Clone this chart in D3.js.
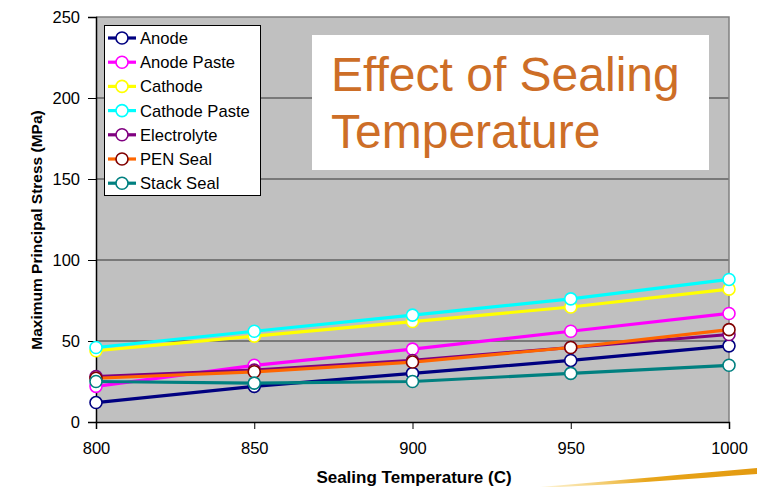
<!DOCTYPE html>
<html>
<head>
<meta charset="utf-8">
<script src="https://cdn.jsdelivr.net/npm/d3@7"></script>
<style>
  html, body { margin: 0; padding: 0; background: #fff; }
  svg { display: block; font-family: "Liberation Sans", Arial, sans-serif; }
</style>
</head>
<body>
<svg id="chart" width="757" height="487"></svg>
<script>
// Sealing temperatures (C)
const temperatures = [800, 850, 900, 950, 1000];

// Maximum principal stress (MPa) per component
const anode        = [12, 22, 30, 38, 47];
const anodePaste   = [22, 35, 45, 56, 67];
const cathode      = [44, 53, 62, 71, 82];
const cathodePaste = [46, 56, 66, 76, 88];
const electrolyte  = [28, 32, 38, 46, 54];
const penSeal      = [27, 31, 37, 46, 57];
const stackSeal    = [25, 24, 25, 30, 35];

const seriesNames = ["Anode", "Anode Paste", "Cathode", "Cathode Paste", "Electrolyte", "PEN Seal", "Stack Seal"];
const lineColors   = ["#000080", "#FF00FF", "#FFFF00", "#00FFFF", "#800080", "#FF6600", "#008080"];
const markerColors = ["#000080", "#FF00FF", "#FFFF00", "#00FFFF", "#800080", "#800000", "#008080"];
const seriesValues = [anode, anodePaste, cathode, cathodePaste, electrolyte, penSeal, stackSeal];

const yTicks = [0, 50, 100, 150, 200, 250];
const xTicks = [800, 850, 900, 950, 1000];

const svg = d3.select("#chart");
const plot = { left: 96, right: 729, top: 17, bottom: 422 };

const x = d3.scaleLinear().domain([800, 1000]).range([plot.left, plot.right]);
const y = d3.scaleLinear().domain([0, 250]).range([plot.bottom, plot.top]);

// Decorative gold swoosh in the lower right
const grad = svg.append("defs").append("linearGradient")
  .attr("id", "swoosh").attr("x1", "0").attr("x2", "1").attr("y1", "0").attr("y2", "0");
grad.append("stop").attr("offset", "0").attr("stop-color", "#F5C842").attr("stop-opacity", 0.2);
grad.append("stop").attr("offset", "0.5").attr("stop-color", "#E8A51A");
grad.append("stop").attr("offset", "1").attr("stop-color", "#E39A10");
svg.append("path")
  .attr("d", "M540,487 C620,480 690,474 757,468 L757,474 C690,479 620,484 560,487 Z")
  .attr("fill", "url(#swoosh)");

// Plot background
svg.append("rect")
  .attr("x", plot.left).attr("y", plot.top)
  .attr("width", plot.right - plot.left).attr("height", plot.bottom - plot.top)
  .attr("fill", "#C0C0C0");

// Horizontal gridlines
svg.append("g").selectAll("line")
  .data(yTicks.filter(t => t > 0 && t < 250))
  .join("line")
  .attr("x1", plot.left).attr("x2", plot.right)
  .attr("y1", d => y(d)).attr("y2", d => y(d))
  .attr("stroke", "#333").attr("stroke-width", 1);

// Plot frame (top and right)
svg.append("path")
  .attr("d", `M${plot.left},${plot.top}H${plot.right}V${plot.bottom}`)
  .attr("fill", "none").attr("stroke", "#808080").attr("stroke-width", 1.5);

// Axes
const tickFont = 16.5;
const yAxis = d3.axisLeft(y).tickValues(yTicks).tickSize(8).tickPadding(8);
const gy = svg.append("g").attr("transform", `translate(${plot.left},0)`).call(yAxis);
gy.select(".domain").attr("stroke", "#000").attr("stroke-width", 1.5);
gy.selectAll(".tick line").attr("stroke", "#000");
gy.selectAll(".tick text").attr("font-size", tickFont).attr("fill", "#000")
  .attr("font-family", "Liberation Sans, Arial, sans-serif");

const xAxis = d3.axisBottom(x).tickValues(xTicks).tickFormat(d3.format("d")).tickSize(7).tickPadding(13);
const gx = svg.append("g").attr("transform", `translate(0,${plot.bottom})`).call(xAxis);
gx.select(".domain").attr("stroke", "#000").attr("stroke-width", 1.5);
gx.selectAll(".tick line").attr("stroke", "#000");
gx.selectAll(".tick text").attr("font-size", tickFont).attr("fill", "#000")
  .attr("font-family", "Liberation Sans, Arial, sans-serif");

// Axis titles
svg.append("text")
  .attr("transform", `translate(42,230) rotate(-90)`)
  .attr("text-anchor", "middle")
  .attr("font-size", 15.5).attr("font-weight", "bold")
  .text("Maximum Principal Stress (MPa)");
svg.append("text")
  .attr("x", 414).attr("y", 483)
  .attr("text-anchor", "middle")
  .attr("font-size", 17).attr("font-weight", "bold")
  .text("Sealing Temperature (C)");

// Series lines and markers
const line = d3.line().x((d, i) => x(temperatures[i])).y(d => y(d));
seriesValues.forEach((vals, k) => {
  const g = svg.append("g");
  g.append("path")
    .attr("d", line(vals))
    .attr("fill", "none")
    .attr("stroke", lineColors[k]).attr("stroke-width", 3.2)
    .attr("stroke-linejoin", "round");
  g.selectAll("circle").data(vals).join("circle")
    .attr("cx", (d, i) => x(temperatures[i]))
    .attr("cy", d => y(d))
    .attr("r", 6)
    .attr("fill", "#fff")
    .attr("stroke", markerColors[k]).attr("stroke-width", 1.6);
});

// Legend
const legend = svg.append("g");
legend.append("rect")
  .attr("x", 104.5).attr("y", 25.5).attr("width", 156).attr("height", 170)
  .attr("fill", "#fff").attr("stroke", "#000").attr("stroke-width", 1);
seriesNames.forEach((name, k) => {
  const cy = 38 + k * 24.2;
  legend.append("line")
    .attr("x1", 108).attr("x2", 136).attr("y1", cy).attr("y2", cy)
    .attr("stroke", lineColors[k]).attr("stroke-width", 3.2);
  legend.append("circle")
    .attr("cx", 122).attr("cy", cy).attr("r", 6)
    .attr("fill", "#fff").attr("stroke", markerColors[k]).attr("stroke-width", 1.6);
  legend.append("text")
    .attr("x", 140).attr("y", cy + 6)
    .attr("font-size", 16.6).attr("fill", "#000")
    .text(name);
});

// Title box
svg.append("rect")
  .attr("x", 312).attr("y", 35).attr("width", 397).attr("height", 135)
  .attr("fill", "#fff");
const title = svg.append("text")
  .attr("font-size", 48).attr("fill", "#CD6E27");
title.append("tspan").attr("x", 331).attr("y", 91).text("Effect of Sealing");
title.append("tspan").attr("x", 331).attr("y", 148).text("Temperature");
</script>
</body>
</html>
